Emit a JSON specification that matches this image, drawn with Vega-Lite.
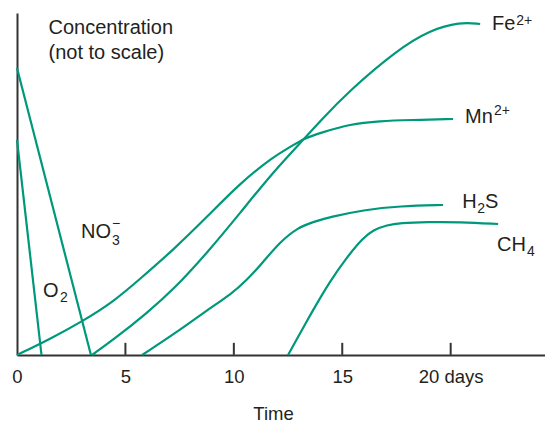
{
  "$schema": "https://vega.github.io/schema/vega-lite/v6.json",
  "width": 528,
  "height": 342,
  "autosize": {"type": "none"},
  "padding": {"left": 17, "top": 13, "right": 0, "bottom": 68},
  "config": {"view": {"stroke": null}, "font": "Liberation Sans"},
  "datasets": {
    "curves": [
      {"species": "O2", "t": 0, "c": 62.87},
      {"species": "O2", "t": 1.13, "c": 0},
      {"species": "NO3", "t": 0, "c": 83.92},
      {"species": "NO3", "t": 3.41, "c": 0},
      {"species": "Mn2+", "t": 0, "c": 0},
      {"species": "Mn2+", "t": 1.52, "c": 4.68},
      {"species": "Mn2+", "t": 3.04, "c": 9.94},
      {"species": "Mn2+", "t": 4.43, "c": 15.5},
      {"species": "Mn2+", "t": 5.67, "c": 22.22},
      {"species": "Mn2+", "t": 7.2, "c": 30.7},
      {"species": "Mn2+", "t": 8.76, "c": 40.35},
      {"species": "Mn2+", "t": 10.29, "c": 50.29},
      {"species": "Mn2+", "t": 11.81, "c": 57.89},
      {"species": "Mn2+", "t": 12.59, "c": 60.82},
      {"species": "Mn2+", "t": 13.28, "c": 63.45},
      {"species": "Mn2+", "t": 13.98, "c": 64.91},
      {"species": "Mn2+", "t": 15.36, "c": 67.54},
      {"species": "Mn2+", "t": 16.74, "c": 68.42},
      {"species": "Mn2+", "t": 18.13, "c": 68.71},
      {"species": "Mn2+", "t": 20.11, "c": 69.01},
      {"species": "Fe2+", "t": 3.46, "c": 0},
      {"species": "Fe2+", "t": 4.43, "c": 4.39},
      {"species": "Fe2+", "t": 6.0, "c": 12.28},
      {"species": "Fe2+", "t": 7.29, "c": 19.59},
      {"species": "Fe2+", "t": 8.76, "c": 29.82},
      {"species": "Fe2+", "t": 10.29, "c": 41.52},
      {"species": "Fe2+", "t": 11.81, "c": 53.51},
      {"species": "Fe2+", "t": 13.28, "c": 63.45},
      {"species": "Fe2+", "t": 13.98, "c": 68.42},
      {"species": "Fe2+", "t": 15.36, "c": 77.49},
      {"species": "Fe2+", "t": 17.53, "c": 89.18},
      {"species": "Fe2+", "t": 19.05, "c": 95.03},
      {"species": "Fe2+", "t": 20.43, "c": 97.37},
      {"species": "Fe2+", "t": 21.36, "c": 96.78},
      {"species": "H2S", "t": 5.77, "c": 0},
      {"species": "H2S", "t": 7.52, "c": 7.31},
      {"species": "H2S", "t": 9.04, "c": 14.33},
      {"species": "H2S", "t": 9.82, "c": 17.54},
      {"species": "H2S", "t": 10.61, "c": 21.93},
      {"species": "H2S", "t": 11.35, "c": 27.19},
      {"species": "H2S", "t": 12.13, "c": 33.04},
      {"species": "H2S", "t": 12.92, "c": 37.13},
      {"species": "H2S", "t": 13.65, "c": 38.89},
      {"species": "H2S", "t": 14.44, "c": 40.35},
      {"species": "H2S", "t": 15.96, "c": 42.4},
      {"species": "H2S", "t": 17.67, "c": 43.57},
      {"species": "H2S", "t": 19.65, "c": 43.86},
      {"species": "CH4", "t": 12.5, "c": 0},
      {"species": "CH4", "t": 13.65, "c": 13.16},
      {"species": "CH4", "t": 14.44, "c": 21.64},
      {"species": "CH4", "t": 15.22, "c": 28.65},
      {"species": "CH4", "t": 15.96, "c": 34.21},
      {"species": "CH4", "t": 16.42, "c": 36.55},
      {"species": "CH4", "t": 17.07, "c": 38.01},
      {"species": "CH4", "t": 17.67, "c": 38.6},
      {"species": "CH4", "t": 18.91, "c": 38.89},
      {"species": "CH4", "t": 20.43, "c": 38.89},
      {"species": "CH4", "t": 22.19, "c": 38.3}
    ],
    "tickdata": [
      {"t": 5}, {"t": 10}, {"t": 15}, {"t": 20}
    ],
    "labels": [
      {"label": "Fe", "t": 21.91, "c": 95.03},
      {"label": "Mn", "t": 20.66, "c": 67.84},
      {"label": "H", "t": 20.53, "c": 42.98},
      {"label": "S", "t": 21.58, "c": 42.98},
      {"label": "CH", "t": 22.14, "c": 30.41},
      {"label": "NO", "t": 2.95, "c": 34.21},
      {"label": "O", "t": 1.2, "c": 16.96}
    ],
    "scripts": [
      {"label": "2+", "t": 23.02, "c": 96.49},
      {"label": "2+", "t": 22.0, "c": 70.18},
      {"label": "2", "t": 21.22, "c": 41.52},
      {"label": "4", "t": 23.52, "c": 28.95},
      {"label": "3", "t": 4.38, "c": 32.16},
      {"label": "−", "t": 4.38, "c": 37.13},
      {"label": "2", "t": 1.98, "c": 15.5}
    ]
  },
  "layer": [
    {
      "data": {"name": "curves"},
      "mark": {"type": "line", "interpolate": "basis", "color": "#00987a", "strokeWidth": 2.2},
      "encoding": {
        "x": {
          "field": "t", "type": "quantitative",
          "scale": {"domain": [0, 24.35], "nice": false, "zero": false},
          "axis": {
            "title": "Time",
            "titleFontSize": 18.5, "titleFontWeight": "normal", "titleColor": "#231f20",
            "titleX": 256, "titleY": 64, "titleBaseline": "alphabetic", "titleAlign": "center",
            "values": [0, 5, 10, 15, 20],
            "labelExpr": "datum.value == 20 ? '20 days' : datum.label",
            "labelFontSize": 18.5, "labelColor": "#231f20",
            "labelBaseline": "alphabetic", "labelPadding": 27,
            "labelFlush": false, "labelOverlap": false,
            "ticks": false,
            "domainColor": "#333333", "domainWidth": 2,
            "grid": false
          }
        },
        "y": {
          "field": "c", "type": "quantitative",
          "scale": {"domain": [0, 100], "nice": false, "zero": false},
          "axis": {
            "title": ["Concentration", "(not to scale)"],
            "titleAngle": 0, "titleAlign": "left", "titleBaseline": "alphabetic",
            "titleX": 31, "titleY": 20, "titleFontSize": 20, "titleFontWeight": "normal",
            "titleLineHeight": 25, "titleColor": "#231f20",
            "labels": false, "ticks": false, "grid": false,
            "domainColor": "#333333", "domainWidth": 2
          }
        },
        "detail": {"field": "species"}
      }
    },
    {
      "data": {"name": "tickdata"},
      "mark": {"type": "tick", "orient": "vertical", "color": "#333333", "size": 12, "thickness": 2, "opacity": 1},
      "encoding": {
        "x": {"field": "t", "type": "quantitative"},
        "y": {"datum": 1.8, "type": "quantitative"}
      }
    },
    {
      "data": {"name": "labels"},
      "mark": {"type": "text", "align": "left", "baseline": "alphabetic", "fontSize": 20, "color": "#231f20"},
      "encoding": {
        "x": {"field": "t", "type": "quantitative"},
        "y": {"field": "c", "type": "quantitative"},
        "text": {"field": "label"}
      }
    },
    {
      "data": {"name": "scripts"},
      "mark": {"type": "text", "align": "left", "baseline": "alphabetic", "fontSize": 14, "color": "#231f20"},
      "encoding": {
        "x": {"field": "t", "type": "quantitative"},
        "y": {"field": "c", "type": "quantitative"},
        "text": {"field": "label"}
      }
    }
  ]
}
